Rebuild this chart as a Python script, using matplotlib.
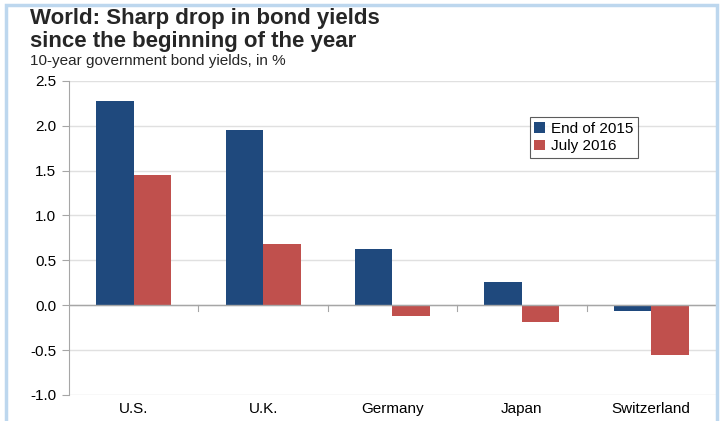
import numpy as np
import matplotlib
matplotlib.use("Agg")
import matplotlib.pyplot as plt
from matplotlib.patches import Rectangle

# data
countries = ["U.S.", "U.K.", "Germany", "Japan", "Switzerland"]
end_2015 = [2.27, 1.95, 0.63, 0.26, -0.06]
july_2016 = [1.45, 0.68, -0.12, -0.19, -0.56]
series_labels = ["End of 2015", "July 2016"]
yticks = [-1.0, -0.5, 0.0, 0.5, 1.0, 1.5, 2.0, 2.5]

blue = "#1F497D"
red = "#C0504D"

plt.rcParams["font.family"] = ["Liberation Sans", "DejaVu Sans"]

fig = plt.figure(figsize=(7.21, 4.21), dpi=100)
ax = fig.add_axes([0.0957, 0.062, 0.8973, 0.746])

x = np.arange(len(countries))
w = 0.29
ax.bar(x - w / 2, end_2015, w, color=blue, label=series_labels[0], zorder=3)
ax.bar(x + w / 2, july_2016, w, color=red, label=series_labels[1], zorder=3)

ax.set_xlim(-0.5, len(countries) - 0.5)
ax.set_ylim(-1.0, 2.5)
ax.set_yticks(yticks)
ax.set_yticklabels([f"{v:.1f}" for v in yticks], fontsize=11)
ax.yaxis.grid(True, color="#E0E0E0", linewidth=1, zorder=0)
ax.axhline(0, color="#A6A6A6", linewidth=1, zorder=4)

# category boundary ticks hanging off the zero line
for b in np.arange(0.5, len(countries) - 0.5):
    ax.plot([b, b], [0, -0.06], color="#A6A6A6", linewidth=0.8, zorder=4)

ax.set_xticks(x)
ax.set_xticklabels(countries, fontsize=11)
ax.tick_params(axis="x", length=0, pad=5)
ax.tick_params(axis="y", length=5, color="#A6A6A6", pad=4)

for s in ["top", "right", "bottom"]:
    ax.spines[s].set_visible(False)
ax.spines["left"].set_color("#A6A6A6")

leg = ax.legend(loc="upper left", bbox_to_anchor=(0.712, 0.885), fontsize=11,
                frameon=True, fancybox=False, handlelength=0.7, handleheight=0.7,
                handletextpad=0.4, borderpad=0.3, labelspacing=0.25,
                borderaxespad=0)
leg.get_frame().set_edgecolor("#333333")
leg.get_frame().set_linewidth(0.8)

fig.text(0.042, 0.98, "World: Sharp drop in bond yields\nsince the beginning of the year",
         fontsize=16, fontweight="bold", color="#262626", va="top", linespacing=1.08)
fig.text(0.042, 0.872, "10-year government bond yields, in %", fontsize=11,
         color="#262626", va="top")

# light blue frame around the figure
fig.patches.append(Rectangle((0.008, -0.01), 0.987, 0.998, transform=fig.transFigure,
                             fill=False, edgecolor="#BDD7EE", linewidth=2.5))

fig.savefig("out.png", dpi=100)
